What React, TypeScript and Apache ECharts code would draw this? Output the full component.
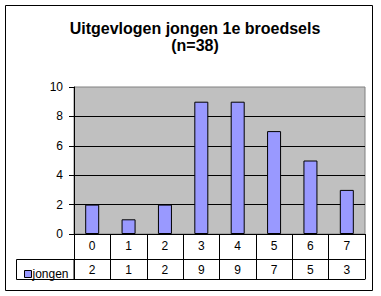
import React, { useEffect, useRef } from "react";
import * as echarts from "echarts";

const categories = ["0", "1", "2", "3", "4", "5", "6", "7"];
const values = [2, 1, 2, 9, 9, 7, 5, 3];
const seriesName = "jongen";
const titleLines = ["Uitgevlogen jongen 1e broedsels", "(n=38)"];
const yTicks = { min: 0, max: 10, interval: 2 };

export default function App() {
  const ref = useRef<HTMLDivElement>(null);
  useEffect(() => {
    if (!ref.current) return;
    const chart = echarts.init(ref.current, null, { renderer: "svg" });
    const font = "Arial, 'Liberation Sans', sans-serif";
    chart.setOption({
      animation: false,
      backgroundColor: "#ffffff",
      title: {
        text: titleLines.join("\n"),
        left: 190,
        textAlign: "center",
        top: 15,
        textStyle: {
          fontFamily: font,
          fontSize: 16,
          fontWeight: "bold",
          color: "#000",
          lineHeight: 17,
        },
      },
      legend: {
        data: [seriesName],
        left: 19,
        top: 263,
        icon: "rect",
        itemWidth: 7,
        itemHeight: 7,
        itemStyle: { borderColor: "#000", borderWidth: 1 },
        textStyle: { fontFamily: font, fontSize: 12, color: "#000", padding: [0, 0, 0, -4] },
      },
      graphic: [
        {
          type: "rect",
          z: -10,
          shape: { x: 5.5, y: 5.5, width: 367, height: 285 },
          style: { fill: "#fff", stroke: "#000", lineWidth: 1 },
        },
        {
          type: "rect",
          z: 10,
          shape: { x: 16.5, y: 259.5, width: 57.5, height: 20 },
          style: { fill: "none", stroke: "#000", lineWidth: 1 },
        },
      ],
      grid: {
        left: 74,
        top: 87,
        width: 291,
        height: 147,
        show: true,
        backgroundColor: "#C0C0C0",
        borderColor: "#808080",
        borderWidth: 1,
      },
      xAxis: [
        {
          type: "category",
          data: categories,
          position: "bottom",
          axisLine: { show: true, lineStyle: { color: "#000", width: 1 } },
          axisTick: { show: true, length: 45, interval: 0, lineStyle: { color: "#000" } },
          axisLabel: { interval: 0, margin: 6, fontFamily: font, fontSize: 12, color: "#000" },
          splitLine: { show: false },
          z: 10,
        },
        {
          type: "category",
          data: values.map(String),
          position: "bottom",
          offset: 25,
          axisLine: { show: true, lineStyle: { color: "#000", width: 1 } },
          axisTick: { show: false },
          axisLabel: { interval: 0, margin: 5, fontFamily: font, fontSize: 12, color: "#000" },
          splitLine: { show: false },
          z: 10,
        },
        {
          type: "category",
          data: categories,
          position: "bottom",
          offset: 45,
          axisLine: { show: true, lineStyle: { color: "#000", width: 1 } },
          axisTick: { show: false },
          axisLabel: { show: false },
          splitLine: { show: false },
          z: 10,
        },
      ],
      yAxis: {
        type: "value",
        min: yTicks.min,
        max: yTicks.max,
        interval: yTicks.interval,
        axisLine: { show: true, lineStyle: { color: "#000", width: 1 } },
        axisTick: { show: true, length: 5, lineStyle: { color: "#000" } },
        axisLabel: { margin: 11, fontFamily: font, fontSize: 12, color: "#000" },
        splitLine: { show: true, showMinLine: false, showMaxLine: false, lineStyle: { color: "#000", width: 1 } },
      },
      series: [
        {
          name: seriesName,
          type: "bar",
          xAxisIndex: 0,
          data: values,
          barWidth: 14,
          itemStyle: { color: "#9999FF", borderColor: "#000", borderWidth: 1 },
        },
      ],
    });
    return () => chart.dispose();
  }, []);
  return (
    <div
      ref={ref}
      style={{ position: "absolute", left: 0, top: 0, width: 381, height: 296 }}
    />
  );
}
